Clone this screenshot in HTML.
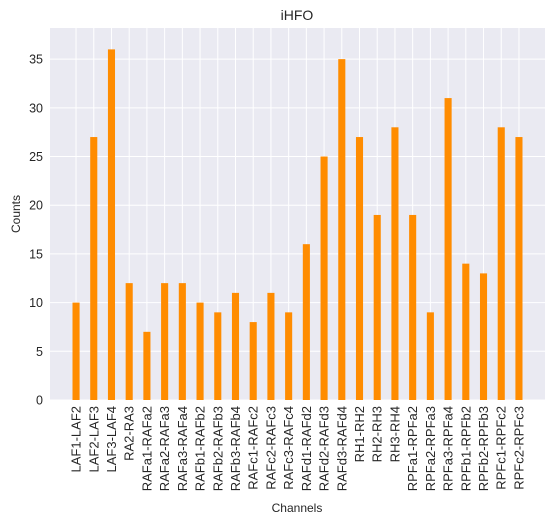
<!DOCTYPE html>
<html><head><meta charset="utf-8"><style>
body{margin:0;background:#fff;font-family:"Liberation Sans","DejaVu Sans",sans-serif}
</style></head><body>
<svg id="chart" width="556" height="525" xmlns="http://www.w3.org/2000/svg">
<rect x="50" y="28" width="495" height="372" fill="#eaeaf2"/>
<g id="grid"></g><g id="bars"></g><g id="ticks"></g>
<text x="297" y="20" text-anchor="middle" font-size="14" fill="#262626">iHFO</text>
<text x="297" y="512" text-anchor="middle" font-size="12" fill="#262626">Channels</text>
<text transform="translate(20,214) rotate(-90)" text-anchor="middle" font-size="12" fill="#262626">Counts</text>
</svg>
<script>
const categories=["LAF1-LAF2","LAF2-LAF3","LAF3-LAF4","RA2-RA3","RAFa1-RAFa2","RAFa2-RAFa3","RAFa3-RAFa4","RAFb1-RAFb2","RAFb2-RAFb3","RAFb3-RAFb4","RAFc1-RAFc2","RAFc2-RAFc3","RAFc3-RAFc4","RAFd1-RAFd2","RAFd2-RAFd3","RAFd3-RAFd4","RH1-RH2","RH2-RH3","RH3-RH4","RPFa1-RPFa2","RPFa2-RPFa3","RPFa3-RPFa4","RPFb1-RPFb2","RPFb2-RPFb3","RPFc1-RPFc2","RPFc2-RPFc3"];
const counts=[10,27,36,12,7,12,12,10,9,11,8,11,9,16,25,35,27,19,28,19,9,31,14,13,28,27];
const yTicks=[0,5,10,15,20,25,30,35];
const NS="http://www.w3.org/2000/svg";
const L=50,R=545,T=28,B=400;
const n=categories.length;
const xmin=-0.2-0.05*(n-1+0.4), xmax=n-1+0.2+0.05*(n-1+0.4);
const ymax=Math.max(...counts)*1.061;
const xs=v=>L+(v-xmin)/(xmax-xmin)*(R-L);
const ys=v=>B-v/ymax*(B-T);
const bw=0.4*(R-L)/(xmax-xmin);
function mk(t,a,p){const e=document.createElementNS(NS,t);for(const k in a)e.setAttribute(k,a[k]);p.appendChild(e);return e;}
const grid=document.getElementById('grid'),bars=document.getElementById('bars'),ticks=document.getElementById('ticks');
yTicks.forEach(v=>{
 const l=mk('line',{x1:L,x2:R,y1:ys(v),y2:ys(v),stroke:'#fff','stroke-width':1},grid);
 
 
 const t=mk('text',{x:L-7,y:ys(v)+4.5,'text-anchor':'end','font-size':12.5,fill:'#262626'},ticks);
 t.textContent=v;
 
 
});
categories.forEach((c,i)=>{
 const x=xs(i);
 const g=mk('line',{x1:x,x2:x,y1:T,y2:B,stroke:'#fff','stroke-width':1},grid);
 
 
 const r=mk('rect',{x:x-bw/2,y:ys(counts[i]),width:bw,height:B-ys(counts[i]),fill:'#ff8c00'},bars);
 
 
 const t=mk('text',{transform:`translate(${x+4.5},${B+6}) rotate(-90)`,'text-anchor':'end','font-size':13,fill:'#262626'},ticks);
 t.textContent=c;
 
 
});
</script>
</body></html>
